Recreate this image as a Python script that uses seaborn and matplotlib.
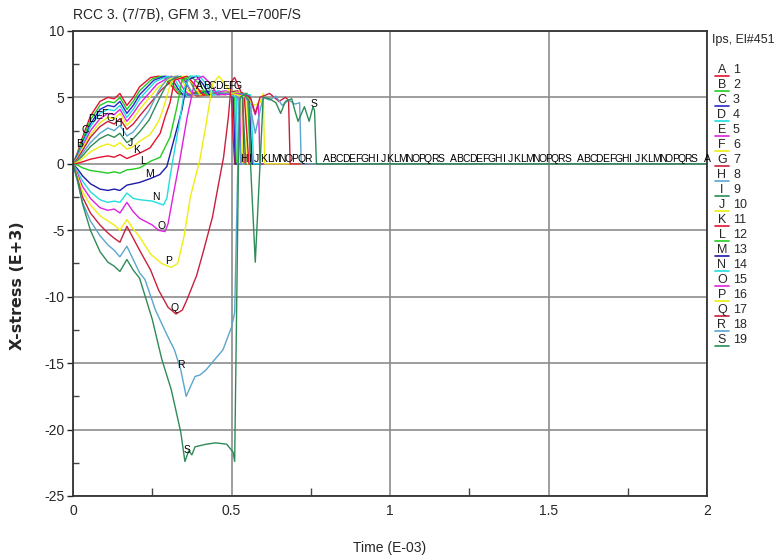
import numpy as np
import pandas as pd
import seaborn as sns
import matplotlib.pyplot as plt
from matplotlib.lines import Line2D

# curve data (time in E-03, x-stress in E+3)
curve_A = [(0, 0), (0.015, 0.9), (0.03, 2.0), (0.055, 3.6), (0.085, 4.7), (0.11, 5.0), (0.13, 4.9), (0.148, 5.3), (0.17, 4.4), (0.19, 5.0), (0.21, 5.8),
           (0.245, 6.5), (0.27, 6.6), (0.29, 6.5), (0.31, 5.9), (0.33, 5.3), (0.36, 5.2), (0.40, 5.5), (0.44, 5.3), (0.48, 5.2), (0.50, 5.3), (0.505, 2.0), (0.51, 0), (2.0, 0)]
curve_B = [(0, 0), (0.015, 0.8), (0.03, 1.8), (0.055, 3.3), (0.085, 4.4), (0.11, 4.7), (0.13, 4.6), (0.148, 5.0), (0.17, 4.1), (0.19, 4.7), (0.21, 5.5),
           (0.25, 6.4), (0.28, 6.6), (0.30, 6.5), (0.32, 5.8), (0.34, 5.2), (0.38, 5.3), (0.42, 5.5), (0.46, 5.3), (0.50, 5.2), (0.51, 5.0), (0.515, 0), (2.0, 0)]
curve_C = [(0, 0), (0.015, 0.7), (0.03, 1.6), (0.055, 3.0), (0.085, 4.1), (0.11, 4.4), (0.13, 4.3), (0.148, 4.7), (0.17, 3.8), (0.19, 4.4), (0.21, 5.2),
           (0.255, 6.3), (0.29, 6.6), (0.31, 6.5), (0.33, 5.7), (0.35, 5.1), (0.40, 5.3), (0.44, 5.5), (0.48, 5.3), (0.505, 5.2), (0.512, 0), (2.0, 0)]
curve_D = [(0, 0), (0.015, 0.6), (0.03, 1.5), (0.055, 2.8), (0.085, 3.8), (0.11, 4.1), (0.13, 4.0), (0.148, 4.4), (0.17, 3.5), (0.19, 4.1), (0.21, 4.9),
           (0.26, 6.2), (0.30, 6.6), (0.32, 6.4), (0.34, 5.6), (0.36, 5.1), (0.42, 5.3), (0.46, 5.5), (0.50, 5.2), (0.515, 5.0), (0.52, 0), (2.0, 0)]
curve_E = [(0, 0), (0.015, 0.5), (0.03, 1.3), (0.055, 2.5), (0.085, 3.4), (0.11, 3.8), (0.13, 3.7), (0.148, 4.1), (0.17, 3.2), (0.19, 3.8), (0.21, 4.5),
           (0.265, 6.0), (0.31, 6.6), (0.33, 6.4), (0.35, 5.6), (0.37, 5.1), (0.44, 5.3), (0.48, 5.5), (0.51, 5.3), (0.525, 4.8), (0.53, 0), (2.0, 0)]
curve_F = [(0, 0), (0.015, 0.45), (0.03, 1.2), (0.055, 2.2), (0.085, 3.1), (0.11, 3.5), (0.13, 3.4), (0.148, 3.8), (0.17, 2.9), (0.19, 3.4), (0.21, 4.1),
           (0.27, 5.8), (0.32, 6.6), (0.34, 6.4), (0.36, 5.6), (0.38, 5.1), (0.46, 5.3), (0.50, 5.5), (0.52, 5.2), (0.53, 5.0), (0.535, 0), (2.0, 0)]
curve_G = [(0, 0), (0.015, 0.4), (0.03, 1.0), (0.055, 2.0), (0.085, 2.8), (0.11, 3.2), (0.13, 3.0), (0.148, 3.4), (0.17, 2.6), (0.19, 3.0), (0.21, 3.6),
           (0.28, 5.6), (0.33, 6.6), (0.35, 6.4), (0.37, 5.5), (0.39, 5.1), (0.46, 5.3), (0.52, 5.5), (0.535, 5.0), (0.54, 0), (2.0, 0)]
curve_H = [(0, 0), (0.015, 0.3), (0.03, 0.8), (0.055, 1.6), (0.085, 2.3), (0.11, 2.7), (0.13, 2.5), (0.148, 2.9), (0.17, 2.1), (0.19, 2.4), (0.21, 3.0),
           (0.24, 4.0), (0.27, 5.5), (0.30, 6.5), (0.33, 6.6), (0.36, 6.0), (0.38, 5.2), (0.45, 5.3), (0.50, 5.4), (0.52, 5.0), (0.53, 0), (2.0, 0)]
curve_I = [(0, 0), (0.015, 0.25), (0.03, 0.6), (0.055, 1.3), (0.085, 1.9), (0.11, 2.2), (0.13, 2.0), (0.148, 2.3), (0.17, 1.6), (0.19, 1.9), (0.21, 2.4),
           (0.24, 3.3), (0.27, 4.8), (0.30, 6.2), (0.34, 6.6), (0.37, 6.2), (0.39, 5.3), (0.46, 5.2), (0.51, 5.4), (0.535, 5.0), (0.545, 0), (2.0, 0)]
curve_J = [(0, 0), (0.015, 0.15), (0.03, 0.4), (0.055, 0.9), (0.085, 1.3), (0.11, 1.5), (0.13, 1.3), (0.148, 1.6), (0.17, 1.1), (0.19, 1.3), (0.21, 1.7),
           (0.243, 2.2), (0.27, 3.2), (0.284, 4.1), (0.31, 6.2), (0.35, 6.6), (0.38, 6.0), (0.40, 5.2), (0.48, 5.3), (0.53, 5.4), (0.545, 4.9), (0.55, 0), (2.0, 0)]
curve_K = [(0, 0), (0.015, 0.05), (0.03, 0.15), (0.055, 0.35), (0.085, 0.5), (0.11, 0.6), (0.13, 0.5), (0.148, 0.7), (0.17, 0.4), (0.19, 0.6), (0.21, 0.8),
           (0.243, 1.2), (0.275, 2.3), (0.29, 3.5), (0.306, 4.6), (0.32, 6.3), (0.36, 6.6), (0.39, 5.8), (0.41, 5.2), (0.50, 5.3), (0.54, 5.2), (0.555, 0), (2.0, 0)]
curve_L = [(0, 0), (0.015, -0.1), (0.03, -0.3), (0.055, -0.5), (0.085, -0.6), (0.11, -0.7), (0.13, -0.6), (0.148, -0.7), (0.17, -0.45), (0.19, -0.4), (0.21, -0.3),
           (0.218, -0.2), (0.245, 0.2), (0.275, 0.5), (0.306, 2.0), (0.328, 4.3), (0.344, 6.3), (0.37, 6.6), (0.40, 6.0), (0.42, 5.2), (0.50, 5.3), (0.55, 5.3), (0.56, 0), (2.0, 0)]
curve_M = [(0, 0), (0.015, -0.4), (0.03, -0.9), (0.055, -1.5), (0.085, -1.9), (0.11, -2.0), (0.13, -1.9), (0.148, -2.0), (0.17, -1.6), (0.19, -1.5), (0.21, -1.4),
           (0.245, -1.1), (0.274, -0.8), (0.296, -0.2), (0.316, 1.6), (0.344, 4.1), (0.36, 6.3), (0.39, 6.6), (0.41, 6.0), (0.43, 5.2), (0.50, 5.3), (0.555, 5.2), (0.565, 0), (2.0, 0)]
curve_N = [(0, 0), (0.015, -0.6), (0.03, -1.3), (0.055, -2.1), (0.085, -2.7), (0.11, -2.9), (0.13, -2.8), (0.148, -2.9), (0.17, -2.2), (0.19, -2.6), (0.21, -2.7),
           (0.25, -2.8), (0.285, -3.1), (0.296, -2.6), (0.306, -1.0), (0.315, 0.3), (0.335, 3.0), (0.353, 5.8), (0.37, 6.6), (0.40, 6.6), (0.42, 6.0), (0.44, 5.2), (0.50, 5.3), (0.56, 5.2), (0.57, 0), (2.0, 0)]
curve_O = [(0, 0), (0.015, -0.8), (0.03, -1.7), (0.055, -2.6), (0.085, -3.3), (0.11, -3.5), (0.13, -3.4), (0.148, -3.7), (0.17, -2.9), (0.19, -3.6), (0.21, -4.1),
           (0.25, -4.6), (0.27, -5.0), (0.29, -5.1), (0.30, -4.5), (0.315, -2.5), (0.337, 0.3), (0.36, 3.5), (0.385, 6.3), (0.41, 6.6), (0.435, 6.0), (0.455, 5.2), (0.52, 5.3),
           (0.56, 4.8), (0.575, 3.7), (0.585, 4.5), (0.59, 0), (2.0, 0)]
curve_P = [(0, 0), (0.015, -1.0), (0.03, -2.1), (0.055, -3.1), (0.085, -3.9), (0.11, -4.3), (0.13, -4.6), (0.148, -5.0), (0.17, -4.2), (0.19, -4.9), (0.21, -5.5),
           (0.245, -6.8), (0.28, -7.5), (0.31, -7.8), (0.33, -7.5), (0.35, -5.5), (0.37, -2.5), (0.40, 0.3), (0.42, 3.0), (0.44, 6.0), (0.46, 6.6), (0.48, 6.0), (0.50, 5.3),
           (0.55, 5.0), (0.57, 4.4), (0.59, 4.6), (0.60, 5.3), (0.605, 0), (2.0, 0)]
curve_Q = [(0, 0), (0.015, -1.2), (0.03, -2.5), (0.055, -3.7), (0.085, -4.6), (0.11, -5.2), (0.13, -5.6), (0.148, -5.9), (0.17, -4.7), (0.19, -5.6), (0.21, -6.5),
           (0.245, -8.0), (0.27, -9.5), (0.30, -10.8), (0.325, -11.3), (0.345, -11.0), (0.36, -10.2), (0.39, -8.4), (0.41, -6.7), (0.44, -4.0), (0.46, -1.4), (0.475, 0.5),
           (0.49, 3.5), (0.50, 6.2), (0.51, 6.5), (0.53, 5.4), (0.56, 5.0), (0.575, 3.8), (0.59, 5.0), (0.62, 5.3), (0.65, 4.7), (0.67, 5.0), (0.68, 4.8), (0.685, 0), (2.0, 0)]
curve_R = [(0, 0), (0.015, -1.4), (0.03, -2.9), (0.055, -4.3), (0.085, -5.4), (0.11, -6.1), (0.13, -6.5), (0.148, -7.0), (0.17, -6.2), (0.19, -7.2), (0.21, -8.2),
           (0.227, -8.7), (0.26, -11.0), (0.295, -12.8), (0.32, -14.0), (0.34, -15.5), (0.357, -17.5), (0.37, -16.8), (0.385, -16.0), (0.40, -15.9), (0.42, -15.5),
           (0.448, -14.7), (0.473, -14.0), (0.50, -12.3), (0.51, -11.2), (0.52, 0), (0.525, 4.8), (0.54, 5.3), (0.56, 4.2), (0.575, 2.3), (0.59, 4.0), (0.60, 5.0),
           (0.62, 4.8), (0.64, 5.1), (0.66, 4.4), (0.68, 4.8), (0.70, 4.5), (0.715, 4.6), (0.72, 0), (2.0, 0)]
curve_S = [(0, 0), (0.015, -1.3), (0.03, -3.0), (0.055, -5.0), (0.085, -6.6), (0.11, -7.4), (0.13, -7.7), (0.148, -8.1), (0.17, -7.2), (0.19, -8.0), (0.21, -8.6),
           (0.25, -11.7), (0.28, -14.7), (0.31, -17.0), (0.34, -20.2), (0.353, -22.4), (0.365, -21.6), (0.375, -21.9), (0.385, -21.3), (0.42, -21.1), (0.45, -21.0),
           (0.485, -21.1), (0.505, -21.7), (0.51, -22.4), (0.522, 0), (0.527, 5.0), (0.54, 5.2), (0.555, 4.8), (0.56, 0), (0.575, -7.4), (0.59, 0), (0.60, 5.0),
           (0.62, 4.9), (0.64, 4.6), (0.655, 3.8), (0.67, 4.7), (0.69, 4.9), (0.70, 4.0), (0.71, 3.2), (0.73, 4.3), (0.745, 3.2), (0.757, 4.3), (0.762, 4.0),
           (0.768, 0), (2.0, 0)]

curve_names = list("ABCDEFGHIJKLMNOPQRS")
curve_colors = ["#e4122e", "#22cc22", "#2828c8", "#22dddd", "#dd22dd", "#eeee11", "#c8203c", "#5aa6cc", "#2e8b57",
                "#eeee11", "#e4122e", "#22cc22", "#1c1ca8", "#22dddd", "#dd22dd", "#eeee11", "#c8203c", "#5aa6cc", "#2e8b57"]
curves = [curve_A, curve_B, curve_C, curve_D, curve_E, curve_F, curve_G, curve_H, curve_I, curve_J,
          curve_K, curve_L, curve_M, curve_N, curve_O, curve_P, curve_Q, curve_R, curve_S]

x_ticks = [0, 0.5, 1, 1.5, 2]
x_ticklabels = ["0", "0.5", "1", "1.5", "2"]
y_ticks = [-25, -20, -15, -10, -5, 0, 5, 10]

rows = []
for name, pts in zip(curve_names, curves):
    for t, y in pts:
        rows.append((name, t, y))
df = pd.DataFrame(rows, columns=["curve", "time", "stress"])

sns.set_style("white")
plt.rcParams["font.family"] = ["Liberation Sans Narrow", "Liberation Sans", "DejaVu Sans"]
plt.rcParams["axes.unicode_minus"] = False

W, H = 776, 557
fig = plt.figure(figsize=(W / 100, H / 100), dpi=100)
ax = fig.add_axes([73 / W, 1 - 496 / H, (707 - 73) / W, (496 - 31) / H])

sns.lineplot(data=df, x="time", y="stress", hue="curve", hue_order=curve_names,
             palette=curve_colors, estimator=None, sort=False, legend=False,
             linewidth=1.0, ax=ax)

ax.set_xlim(0, 2)
ax.set_ylim(-25, 10)
ax.set_xticks(x_ticks)
ax.set_xticklabels(x_ticklabels)
ax.set_xticks([0.25, 0.75, 1.25, 1.75], minor=True)
ax.set_yticks(y_ticks)
ax.set_yticks([-22.5, -17.5, -12.5, -7.5, -2.5, 2.5, 7.5], minor=True)
ax.tick_params(axis="x", which="major", length=0, pad=6, labelsize=10)
ax.tick_params(axis="x", which="minor", direction="in", length=6, width=1, color="#444444", bottom=True)
ax.tick_params(axis="y", which="major", direction="out", length=4, width=1, pad=2, labelsize=10, left=True)
ax.tick_params(axis="y", which="minor", direction="in", length=4, width=1, color="#444444", left=True)
ax.grid(True, which="major", color="#8c8c8c", linewidth=1.2)
ax.set_axisbelow(True)
for sp in ax.spines.values():
    sp.set_color("#333333")
    sp.set_linewidth(1.3)
ax.set_xlabel("")
ax.set_ylabel("")

# curve labels placed along each curve every 0.4 time units
for k in range(6):
    for i, (name, pts) in enumerate(zip(curve_names, curves)):
        tt = 0.02 * i + 0.4 * k
        if tt == 0 or tt > 2.0:
            continue
        ts = [p[0] for p in pts]
        ys = [p[1] for p in pts]
        yy = np.interp(tt, ts, ys)
        ax.text(tt, yy, name, ha="center", va="bottom", fontsize=7.5, color="black")

fig.text(73 / W, 1 - 15 / H, "RCC 3. (7/7B), GFM 3., VEL=700F/S", fontsize=10, va="center")
fig.text(390 / W, 1 - 548 / H, "Time (E-03)", fontsize=10, ha="center", va="center")
fig.text(18 / W, 1 - 286 / H, "X-stress (E+3)", fontsize=11.5, fontweight="bold",
         rotation=90, ha="center", va="center", family=["DejaVu Sans"])

# legend at right
fig.text(712 / W, 1 - 40 / H, "Ips, El#451", fontsize=9, va="center")
for i, (name, col) in enumerate(zip(curve_names, curve_colors)):
    yp = 70 + 15 * i
    fig.text(722 / W, 1 - yp / H, name, fontsize=9, ha="center", va="center")
    fig.text(733 / W, 1 - yp / H, str(i + 1), fontsize=9, ha="left", va="center")
    fig.add_artist(Line2D([715 / W, 729 / W], [1 - (yp + 6) / H] * 2, color=col, lw=1.2,
                          transform=fig.transFigure))

fig.savefig("out.png", dpi=100)
